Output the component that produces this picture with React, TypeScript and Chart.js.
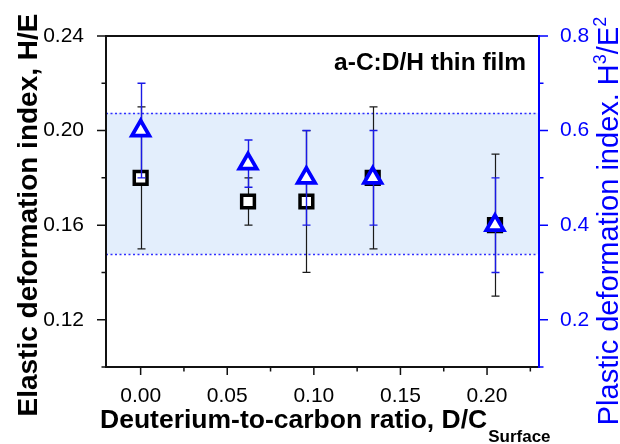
import React, { useEffect, useRef } from 'react';
import { Chart, registerables } from 'chart.js';

Chart.register(...registerables);

// ---- data ----
const ratioDC = [0.0, 0.062, 0.0957, 0.134, 0.2046];
const hOverE = [0.18, 0.17, 0.17, 0.18, 0.16];
const hOverEErr = [0.03, 0.01, 0.03, 0.03, 0.03];
const h3OverE2 = [0.6, 0.53, 0.5, 0.5, 0.4];
const h3OverE2Err = [0.1, 0.05, 0.1, 0.1, 0.1];
const bandHE = [0.1477, 0.2075];

const xTicks = [0, 0.05, 0.1, 0.15, 0.2];
const xMinor = [0.025, 0.075, 0.125, 0.175, 0.225];
const yTicks = [0.12, 0.16, 0.2, 0.24];
const yMinor = [0.1, 0.14, 0.18, 0.22];
const y2Ticks = [0.2, 0.4, 0.6, 0.8];
const y2Minor = [0.1, 0.3, 0.5, 0.7];

const leftTitle = 'Elastic deformation index, H/E';
const rightTitleParts = [
  { t: 'Plastic deformation index. H', sup: false },
  { t: '3', sup: true },
  { t: '/E', sup: false },
  { t: '2', sup: true },
];
const bottomTitle = 'Deuterium-to-carbon ratio, D/C';
const bottomSub = 'Surface';
const annotation = 'a-C:D/H thin film';

const FONT = '"Liberation Sans", Arial, Helvetica, sans-serif';
const BLUE = '#0000ff';

function drawErr(ctx: CanvasRenderingContext2D, xs: any, ys: any, xv: number[], yv: number[], ev: number[], color: string, lw: number) {
  ctx.save();
  ctx.strokeStyle = color;
  ctx.lineWidth = lw;
  for (let i = 0; i < xv.length; i++) {
    const px = Math.round(xs.getPixelForValue(xv[i])) + 0.5;
    const pt = ys.getPixelForValue(yv[i] + ev[i]);
    const pb = ys.getPixelForValue(yv[i] - ev[i]);
    ctx.beginPath();
    ctx.moveTo(px, pt);
    ctx.lineTo(px, pb);
    ctx.moveTo(px - 4, pt);
    ctx.lineTo(px + 4, pt);
    ctx.moveTo(px - 4, pb);
    ctx.lineTo(px + 4, pb);
    ctx.stroke();
  }
  ctx.restore();
}

const deco = {
  id: 'deco',
  beforeDatasetsDraw(chart: any) {
    const { ctx, chartArea: a, scales } = chart;
    const y = scales.y;
    const yt = y.getPixelForValue(bandHE[1]);
    const yb = y.getPixelForValue(bandHE[0]);
    ctx.save();
    ctx.fillStyle = '#e3eefc';
    ctx.fillRect(a.left, yt, a.right - a.left, yb - yt);
    ctx.strokeStyle = '#2f2fff';
    ctx.lineWidth = 1.5;
    ctx.setLineDash([2, 2.5]);
    ctx.beginPath();
    ctx.moveTo(a.left, Math.round(yt) + 0.5);
    ctx.lineTo(a.right, Math.round(yt) + 0.5);
    ctx.moveTo(a.left, Math.round(yb) + 0.5);
    ctx.lineTo(a.right, Math.round(yb) + 0.5);
    ctx.stroke();
    ctx.restore();
    drawErr(ctx, scales.x, y, ratioDC, hOverE, hOverEErr, '#1a1a1a', 1.2);
  },
  afterDatasetDraw(chart: any, args: any) {
    if (args.index === 1) {
      const { ctx, scales } = chart;
      drawErr(ctx, scales.x, scales.y2, ratioDC, h3OverE2, h3OverE2Err, '#1a1ae6', 1.4);
    }
  },
  afterDatasetsDraw(chart: any) {
    const { ctx, chartArea: a, scales } = chart;
    const { x, y, y2 } = scales;
    ctx.save();
    ctx.lineCap = 'butt';
    // frame
    ctx.lineWidth = 2;
    ctx.strokeStyle = '#111';
    ctx.beginPath();
    ctx.moveTo(a.left - 1, a.top);
    ctx.lineTo(a.right, a.top);
    ctx.moveTo(a.left, a.top - 1);
    ctx.lineTo(a.left, a.bottom + 1);
    ctx.moveTo(a.left - 1, a.bottom);
    ctx.lineTo(a.right, a.bottom);
    ctx.stroke();
    // left ticks
    ctx.lineWidth = 1.5;
    ctx.beginPath();
    yTicks.forEach((v) => {
      const p = y.getPixelForValue(v);
      ctx.moveTo(a.left - 9, p);
      ctx.lineTo(a.left, p);
    });
    yMinor.forEach((v) => {
      const p = y.getPixelForValue(v);
      ctx.moveTo(a.left - 4.5, p);
      ctx.lineTo(a.left, p);
    });
    // bottom ticks
    xTicks.forEach((v) => {
      const p = x.getPixelForValue(v);
      ctx.moveTo(p, a.bottom);
      ctx.lineTo(p, a.bottom + 8);
    });
    xMinor.forEach((v) => {
      const p = x.getPixelForValue(v);
      ctx.moveTo(p, a.bottom);
      ctx.lineTo(p, a.bottom + 4.5);
    });
    ctx.stroke();
    // right axis
    ctx.strokeStyle = BLUE;
    ctx.lineWidth = 2;
    ctx.beginPath();
    ctx.moveTo(a.right, a.top - 1);
    ctx.lineTo(a.right, a.bottom + 1);
    ctx.stroke();
    ctx.lineWidth = 1.5;
    ctx.beginPath();
    y2Ticks.forEach((v) => {
      const p = y2.getPixelForValue(v);
      ctx.moveTo(a.right, p);
      ctx.lineTo(a.right + 9, p);
    });
    y2Minor.forEach((v) => {
      const p = y2.getPixelForValue(v);
      ctx.moveTo(a.right, p);
      ctx.lineTo(a.right + 4.5, p);
    });
    ctx.stroke();

    // annotation
    ctx.fillStyle = '#000';
    ctx.font = `bold 24.5px ${FONT}`;
    ctx.textAlign = 'right';
    ctx.textBaseline = 'alphabetic';
    ctx.fillText(annotation, 526, 70);

    // left title
    ctx.save();
    ctx.translate(37, 215);
    ctx.rotate(-Math.PI / 2);
    ctx.font = `bold 28px ${FONT}`;
    ctx.textAlign = 'center';
    ctx.fillText(leftTitle, 0, 0);
    ctx.restore();

    // right title
    ctx.save();
    ctx.translate(618, 221);
    ctx.rotate(-Math.PI / 2);
    ctx.fillStyle = BLUE;
    ctx.textAlign = 'left';
    const big = `29px ${FONT}`;
    const small = `18px ${FONT}`;
    let total = 0;
    rightTitleParts.forEach((p) => {
      ctx.font = p.sup ? small : big;
      total += ctx.measureText(p.t).width;
    });
    let cx = -total / 2;
    rightTitleParts.forEach((p) => {
      ctx.font = p.sup ? small : big;
      ctx.fillText(p.t, cx, p.sup ? -12 : 0);
      cx += ctx.measureText(p.t).width;
    });
    ctx.restore();

    // bottom title
    ctx.fillStyle = '#000';
    ctx.textAlign = 'left';
    ctx.font = `bold 26.5px ${FONT}`;
    ctx.fillText(bottomTitle, 100, 428);
    const w = ctx.measureText(bottomTitle).width;
    ctx.font = `bold 17px ${FONT}`;
    ctx.fillText(bottomSub, 100 + w + 1, 442);
    ctx.restore();
  },
};

export default function App() {
  const ref = useRef<HTMLCanvasElement | null>(null);
  useEffect(() => {
    if (!ref.current) return;
    Chart.defaults.font.family = FONT;
    const chart = new Chart(ref.current, {
      type: 'scatter',
      data: {
        datasets: [
          {
            label: 'H3/E2',
            data: ratioDC.map((x, i) => ({ x, y: h3OverE2[i] })),
            yAxisID: 'y2',
            pointStyle: 'triangle',
            pointRadius: 10,
            pointBorderWidth: 3.8,
            borderColor: BLUE,
            backgroundColor: '#ffffff',
            showLine: false,
          },
          {
            label: 'H/E',
            data: ratioDC.map((x, i) => ({ x, y: hOverE[i] })),
            yAxisID: 'y',
            pointStyle: 'rect',
            pointRadius: 9,
            pointBorderWidth: 3.5,
            borderColor: '#000000',
            backgroundColor: '#ffffff',
            showLine: false,
          },
        ],
      },
      options: {
        responsive: false,
        animation: false,
        devicePixelRatio: 1,
        layout: { padding: { top: 36, left: 0, right: 0, bottom: 0 } },
        plugins: { legend: { display: false }, tooltip: { enabled: false } },
        scales: {
          x: {
            type: 'linear',
            min: -0.02,
            max: 0.23,
            grid: { display: false },
            border: { display: false },
            afterBuildTicks: (s: any) => { s.ticks = xTicks.map((v) => ({ value: v })); },
            afterFit: (s: any) => { s.height = 77; },
            ticks: {
              color: '#000',
              font: { size: 21, family: FONT },
              padding: 9,
              maxRotation: 0,
              callback: (v: any) => Number(v).toFixed(2),
            },
          },
          y: {
            type: 'linear',
            position: 'left',
            min: 0.1,
            max: 0.24,
            grid: { display: false },
            border: { display: false },
            afterBuildTicks: (s: any) => { s.ticks = yTicks.map((v) => ({ value: v })); },
            afterFit: (s: any) => { s.width = 106; },
            ticks: {
              color: '#000',
              font: { size: 21, family: FONT },
              padding: 14,
              callback: (v: any) => Number(v).toFixed(2),
            },
          },
          y2: {
            type: 'linear',
            position: 'right',
            min: 0.1,
            max: 0.8,
            grid: { display: false },
            border: { display: false },
            afterBuildTicks: (s: any) => { s.ticks = y2Ticks.map((v) => ({ value: v })); },
            afterFit: (s: any) => { s.width = 81; },
            ticks: {
              color: BLUE,
              font: { size: 21, family: FONT },
              padding: 13,
              callback: (v: any) => Number(v).toFixed(1),
            },
          },
        },
      },
      plugins: [deco],
    } as any);
    return () => chart.destroy();
  }, []);
  return (
    <div style={{ position: 'absolute', left: 0, top: 0, width: 620, height: 444 }}>
      <canvas ref={ref} width={620} height={444} style={{ display: 'block' }} />
    </div>
  );
}
